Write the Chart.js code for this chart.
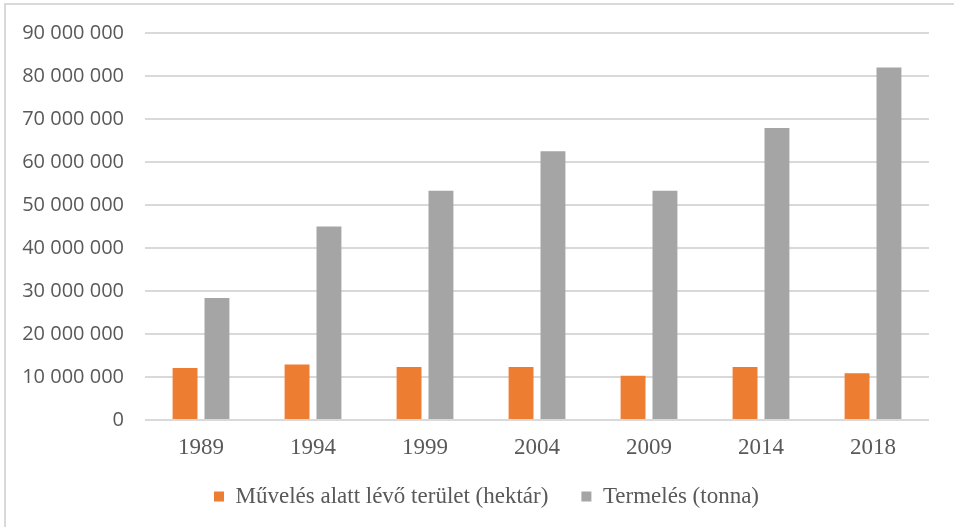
<!DOCTYPE html>
<html>
<head>
<meta charset="utf-8">
<script src="https://cdn.jsdelivr.net/npm/chart.js@4/dist/chart.umd.min.js"></script>
<style>
  html, body { margin: 0; padding: 0; background: #fff; }
  #wrap { position: relative; width: 954px; height: 527px; overflow: hidden; }
  #frame { position: absolute; left: 4px; top: 3px; width: 1000px; height: 600px;
           border-left: 2px solid #d9d9d9; border-top: 2px solid #d9d9d9; }
  canvas { position: absolute; left: 0; top: 0; }
</style>
</head>
<body>
<div id="wrap">
  <div id="frame"></div>
  <canvas id="myChart" width="954" height="527"></canvas>
</div>
<script>
// years on the x axis
const years = ['1989', '1994', '1999', '2004', '2009', '2014', '2018'];

// area under cultivation (hectare)
const terulet = [12100000, 12900000, 12300000, 12300000, 10300000, 12300000, 10900000];

// production (tonnes)
const termeles = [28400000, 45000000, 53300000, 62500000, 53300000, 67900000, 82000000];

const seriesNames = ['Művelés alatt lévő terület (hektár)', 'Termelés (tonna)'];
const seriesColors = ['#ED7D31', '#A5A5A5'];

const yMax = 90000000;
const yStep = 10000000;

function fmt(v) {
    return String(v).replace(/\B(?=(\d{3})+(?!\d))/g, ' ');
}

// legend sits a bit right of the plot centre in the original
const legendShift = {
    id: 'legendShift',
    afterLayout(chart) {
        chart.legend.left += 22;
        chart.legend.right += 22;
    }
};

var ctx = document.getElementById('myChart').getContext('2d');

var myChart = new Chart(ctx, { // eslint-disable-line
    type: 'bar',
    data: {
        labels: years,
        datasets: [{
            label: seriesNames[0],
            data: terulet,
            backgroundColor: seriesColors[0],
            categoryPercentage: 0.57,
            barPercentage: 0.78
        },
        {
            label: seriesNames[1],
            data: termeles,
            backgroundColor: seriesColors[1],
            categoryPercentage: 0.57,
            barPercentage: 0.78
        }
        ]
    },
    plugins: [legendShift],
    options: {
        responsive: false,
        animation: false,
        layout: {
            padding: { top: 32, right: 25, bottom: 9, left: 0 }
        },
        plugins: {
            tooltip: { enabled: false },
            legend: {
                position: 'bottom',
                labels: {
                    boxWidth: 10,
                    boxHeight: 10,
                    padding: 10,
                    color: '#595959',
                    font: { family: '"Liberation Serif", "Times New Roman", serif', size: 23 },
                    generateLabels: (chart) => {
                        const items = Chart.defaults.plugins.legend.labels.generateLabels(chart);
                        // wider gap after the first item
                        items[0].text = items[0].text + '\u00a0\u00a0\u00a0\u00a0';
                        items.forEach(it => { it.lineWidth = 0; });
                        return items;
                    }
                }
            }
        },
        scales: {
            x: {
                grid: { display: false, drawTicks: false },
                border: { display: false },
                ticks: {
                    padding: 14,
                    color: '#595959',
                    font: { family: '"Liberation Serif", "Times New Roman", serif', size: 23 }
                },
                afterFit: (scale) => { scale.height = 55; }
            },
            y: {
                min: 0,
                max: yMax,
                grid: { color: '#d9d9d9', lineWidth: 2, drawTicks: false },
                border: { display: false },
                ticks: {
                    stepSize: yStep,
                    padding: 21,
                    color: '#595959',
                    font: { family: '"Open Sans", sans-serif', size: 20 },
                    callback: (v) => fmt(v)
                },
                afterFit: (scale) => { scale.width = 145; }
            }
        }
    }
});
</script>
</body>
</html>
